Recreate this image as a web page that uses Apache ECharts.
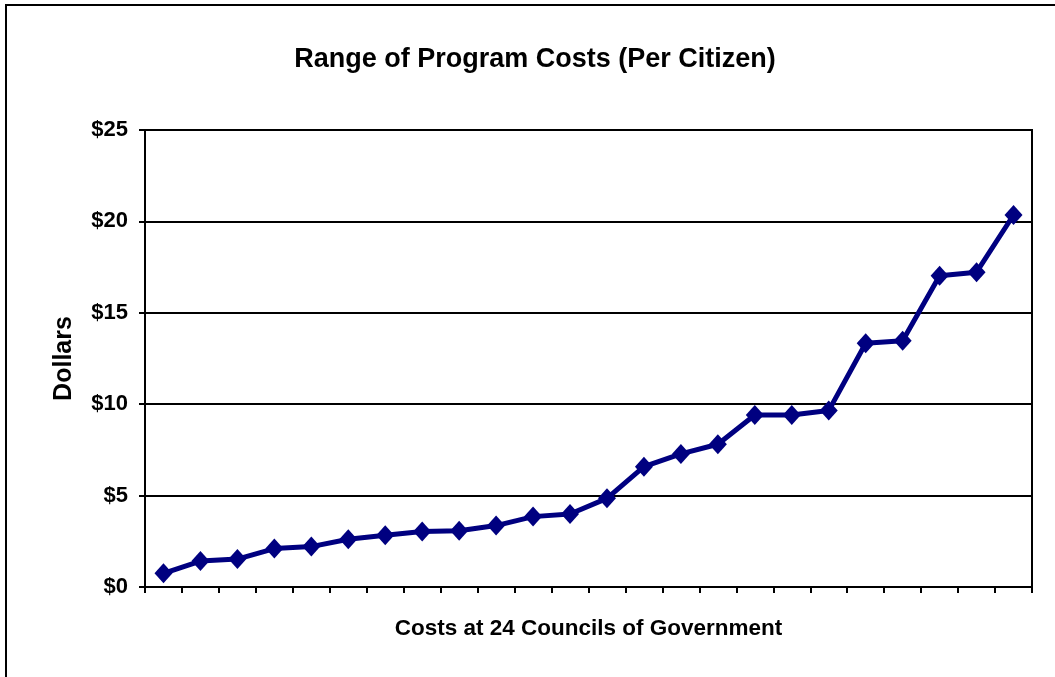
<!DOCTYPE html>
<html>
<head>
<meta charset="utf-8">
<script src="https://cdn.jsdelivr.net/npm/echarts@6/dist/echarts.min.js"></script>
<style>
html,body{margin:0;padding:0;background:#fff;}
#chart{width:1055px;height:677px;}
</style>
</head>
<body>
<div id="chart"></div>
<script>
const categories = ['1','2','3','4','5','6','7','8','9','10','11','12','13','14','15','16','17','18','19','20','21','22','23','24'];
const costs = [0.75, 1.42, 1.53, 2.10, 2.21, 2.61, 2.83, 3.03, 3.08, 3.36, 3.85, 3.99, 4.85, 6.58, 7.28, 7.81, 9.41, 9.41, 9.65, 13.33, 13.47, 17.03, 17.22, 20.35];
const yTicks = [0, 5, 10, 15, 20, 25];

const chart = echarts.init(document.getElementById('chart'));
const font = 'Liberation Sans, Arial, sans-serif';
chart.setOption({
  animation: false,
  backgroundColor: '#fff',
  graphic: [{
    type: 'rect',
    shape: { x: 6, y: 5, width: 1100, height: 720 },
    style: { fill: 'none', stroke: '#000', lineWidth: 2 },
    silent: true
  }],
  title: {
    text: 'Range of Program Costs (Per Citizen)',
    left: 530, top: 41, textAlign: 'center',
    textStyle: { fontFamily: font, fontWeight: 'bold', fontSize: 27, color: '#000' }
  },
  grid: { left: 145, right: 23, top: 130, bottom: 90, show: true, borderColor: '#000', borderWidth: 2, backgroundColor: 'transparent' },
  xAxis: {
    type: 'category',
    data: categories,
    boundaryGap: true,
    name: 'Costs at 24 Councils of Government',
    nameLocation: 'middle',
    nameGap: 30,
    nameTextStyle: { fontFamily: font, fontWeight: 'bold', fontSize: 22.5, color: '#000' },
    axisLine: { lineStyle: { color: '#000', width: 2 } },
    axisTick: { show: true, length: 6, lineStyle: { color: '#000', width: 2 }, alignWithLabel: false },
    axisLabel: { show: false },
    splitLine: { show: false }
  },
  yAxis: {
    type: 'value',
    min: 0, max: 25, interval: 5,
    name: 'Dollars',
    nameLocation: 'middle',
    nameGap: 68,
    nameRotate: 90,
    nameTextStyle: { fontFamily: font, fontWeight: 'bold', fontSize: 25, color: '#000' },
    axisLine: { show: true, lineStyle: { color: '#000', width: 2 } },
    axisTick: { show: true, length: 6, lineStyle: { color: '#000', width: 2 } },
    axisLabel: {
      fontFamily: font, fontWeight: 'bold', fontSize: 22, color: '#000', margin: 17,
      formatter: v => yTicks.includes(v) ? '$' + v : ''
    },
    splitLine: { show: true, lineStyle: { color: '#000', width: 2 } }
  },
  series: [{
    type: 'line',
    data: costs,
    symbol: 'diamond',
    symbolSize: [18, 20],
    lineStyle: { color: '#000080', width: 5 },
    itemStyle: { color: '#000080' }
  }]
});
</script>
</body>
</html>
